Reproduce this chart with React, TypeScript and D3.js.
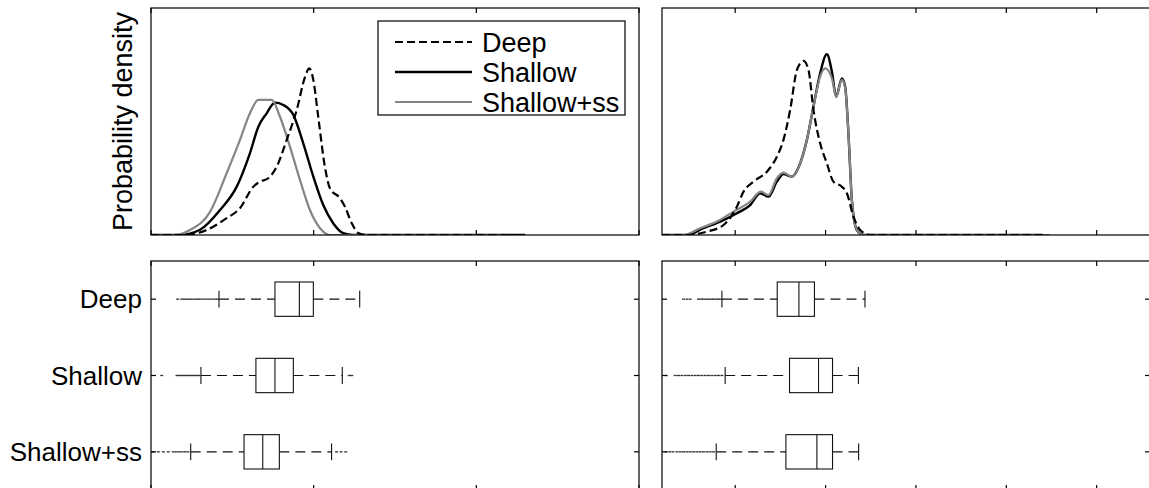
import React from "react";
import * as d3 from "d3";

// ---- data -------------------------------------------------------------
const groups = ["Deep", "Shallow", "Shallow+ss"];

// kernel density estimates, [value, density]
const leftDeep: [number, number][] = [
  [0, 0], [0.199, 0], [0.342, 0.022], [0.465, 0.074], [0.547, 0.118], [0.629, 0.213],
  [0.67, 0.235], [0.721, 0.25], [0.773, 0.301], [0.834, 0.419], [0.896, 0.551],
  [0.947, 0.697], [0.973, 0.734], [0.998, 0.683], [1.028, 0.521], [1.069, 0.301],
  [1.1, 0.206], [1.162, 0.162], [1.192, 0.125], [1.234, 0.052], [1.274, 0.009],
  [1.326, 0], [2.3, 0],
];
const leftShallow: [number, number][] = [
  [0, 0], [0.178, 0], [0.301, 0.023], [0.424, 0.11], [0.527, 0.213], [0.608, 0.36],
  [0.66, 0.477], [0.711, 0.536], [0.762, 0.583], [0.813, 0.573], [0.875, 0.529],
  [0.936, 0.404], [0.998, 0.257], [1.059, 0.132], [1.12, 0.052], [1.182, 0.008],
  [1.243, 0], [2.3, 0],
];
const leftShallowSs: [number, number][] = [
  [0, 0], [0.137, 0], [0.24, 0.022], [0.363, 0.102], [0.465, 0.272], [0.547, 0.419],
  [0.608, 0.536], [0.66, 0.595], [0.742, 0.595], [0.793, 0.521], [0.854, 0.389],
  [0.916, 0.242], [0.977, 0.11], [1.039, 0.03], [1.1, 0], [2.2, 0],
];
const rightDeep: [number, number][] = [
  [-0.81, 0], [-0.534, 0], [-0.313, 0.015], [-0.129, 0.044], [0.019, 0.125], [0.092, 0.191],
  [0.202, 0.235], [0.351, 0.279], [0.461, 0.345], [0.534, 0.419], [0.608, 0.551],
  [0.683, 0.727], [0.756, 0.767], [0.811, 0.727], [0.866, 0.551], [0.94, 0.404],
  [1.014, 0.316], [1.087, 0.235], [1.18, 0.213], [1.236, 0.184], [1.309, 0.081],
  [1.383, 0.022], [1.493, 0], [3.4, 0],
];
const rightShallow: [number, number][] = [
  [-0.81, 0], [-0.534, 0], [-0.351, 0.03], [-0.166, 0.059], [0.019, 0.096], [0.166, 0.132],
  [0.277, 0.184], [0.368, 0.169], [0.461, 0.235], [0.534, 0.269], [0.627, 0.257],
  [0.719, 0.316], [0.793, 0.419], [0.866, 0.566], [0.94, 0.712], [1.014, 0.796],
  [1.07, 0.72], [1.117, 0.609], [1.18, 0.69], [1.217, 0.653], [1.253, 0.448],
  [1.291, 0.154], [1.346, 0.022], [1.419, 0], [3.4, 0],
];
const rightShallowSs: [number, number][] = [
  [-0.81, 0], [-0.572, 0], [-0.387, 0.03], [-0.202, 0.059], [-0.019, 0.103], [0.166, 0.147],
  [0.284, 0.191], [0.368, 0.176], [0.461, 0.25], [0.534, 0.275], [0.627, 0.257],
  [0.719, 0.316], [0.793, 0.419], [0.866, 0.566], [0.94, 0.698], [0.996, 0.734],
  [1.07, 0.69], [1.117, 0.609], [1.18, 0.683], [1.217, 0.646], [1.253, 0.448],
  [1.291, 0.154], [1.346, 0.022], [1.419, 0], [3.485, 0],
];

// box statistics per group: [lower whisker, q1, median, q3, upper whisker]
const leftBoxes: number[][] = [
  [0.418, 0.762, 0.912, 0.998, 1.283],
  [0.307, 0.645, 0.762, 0.875, 1.176],
  [0.244, 0.572, 0.687, 0.789, 1.11],
];
const rightBoxes: number[][] = [
  [-0.147, 0.465, 0.705, 0.877, 1.436],
  [-0.111, 0.601, 0.922, 1.077, 1.363],
  [-0.21, 0.561, 0.904, 1.077, 1.366],
];

// outlying observations per group
const leftOutliers: number[][] = [
  [0.164, 0.189, 0.206, 0.221, 0.237, 0.252, 0.27, 0.286, 0.301, 0.32, 0.338, 0.356, 0.375, 0.393, 0.409],
  [0.066, 0.16, 0.172, 0.184, 0.197, 0.209, 0.221, 0.234, 0.246, 0.258, 0.27, 0.283, 0.295, 1.219, 1.234],
  [0.014, 0.045, 0.076, 0.106, 0.137, 0.154, 0.172, 0.19, 0.209, 0.227, 1.141, 1.168, 1.197],
];
const rightOutliers: number[][] = [
  [-0.572, -0.534, -0.498, -0.406, -0.376, -0.351, -0.321, -0.295, -0.265, -0.24, -0.21, -0.185, -0.158],
  [-0.763, -0.664, -0.627, -0.59, -0.553, -0.516, -0.479, -0.442, -0.406, -0.369, -0.332, -0.295, -0.258, -0.221, -0.185, -0.147],
  [-0.763, -0.726, -0.689, -0.645, -0.608, -0.572, -0.534, -0.498, -0.461, -0.424, -0.387, -0.351, -0.313, -0.277, -0.24],
];

const leftTicks = [0, 1, 2, 3];
const rightTicks = [0, 1, 2, 3, 4];

// ---- layout -----------------------------------------------------------
const W = 1149;
const H = 488;
const FONT = "Liberation Sans, Arial, Helvetica, sans-serif";
const GRAY = "#858585";

const xLeft = d3.scaleLinear().domain([0, 3]).range([151, 639]);
const xRight = d3.scaleLinear().domain([-0.81, 4.59]).range([662, 1150]);
const yDens = d3.scaleLinear().domain([0, 1]).range([235, 8]);
const yBox = d3.scaleLinear().domain([0.5, 3.5]).range([261, 490]);

const series = [
  { name: "Deep", color: "#000", dash: "8,4", width: 2.2 },
  { name: "Shallow", color: "#000", dash: "", width: 2.4 },
  { name: "Shallow+ss", color: GRAY, dash: "", width: 2.2 },
];

function Frame({ x, y, ticks, yTicks }: {
  x: d3.ScaleLinear<number, number>;
  y: d3.ScaleLinear<number, number>;
  ticks: number[];
  yTicks?: number[];
}) {
  const [x0, x1] = x.range();
  const [ya, yb] = y.range();
  const top = Math.min(ya, yb);
  const bot = Math.max(ya, yb);
  const tl = 5;
  return (
    <g stroke="#000" strokeWidth={1.2} fill="none">
      <rect x={x0} y={top} width={x1 - x0} height={bot - top} />
      {ticks.map((t) => (
        <g key={t}>
          <line x1={x(t)} x2={x(t)} y1={top} y2={top + tl} />
          <line x1={x(t)} x2={x(t)} y1={bot} y2={bot - tl} />
        </g>
      ))}
      {(yTicks || []).map((t) => (
        <g key={"y" + t}>
          <line x1={x0} x2={x0 + tl} y1={y(t)} y2={y(t)} />
          <line x1={x1} x2={x1 - tl} y1={y(t)} y2={y(t)} />
        </g>
      ))}
    </g>
  );
}

function Densities({ x, data, clip }: {
  x: d3.ScaleLinear<number, number>;
  data: [number, number][][];
  clip: string;
}) {
  const line = d3
    .line<[number, number]>()
    .x((d) => x(d[0]))
    .y((d) => yDens(d[1]))
    .curve(d3.curveMonotoneX);
  // solid black first, gray over it, dashed on top
  const order = [1, 2, 0];
  return (
    <g clipPath={`url(#${clip})`}>
      {order.map((i) => (
        <path
          key={i}
          d={line(data[i]) || ""}
          fill="none"
          stroke={series[i].color}
          strokeWidth={series[i].width}
          strokeDasharray={series[i].dash || undefined}
          strokeLinejoin="round"
        />
      ))}
    </g>
  );
}

function Boxes({ x, boxes, outliers }: {
  x: d3.ScaleLinear<number, number>;
  boxes: number[][];
  outliers: number[][];
}) {
  const half = 0.225;
  const cap = 0.11;
  return (
    <g stroke="#111" strokeWidth={1.1} fill="none">
      {boxes.map((b, i) => {
        const g = i + 1;
        const yc = yBox(g);
        const [lw, q1, med, q3, uw] = b;
        return (
          <g key={i}>
            <line x1={x(lw)} x2={x(q1)} y1={yc} y2={yc} strokeDasharray="10,6" />
            <line x1={x(q3)} x2={x(uw)} y1={yc} y2={yc} strokeDasharray="10,6" />
            <line x1={x(lw)} x2={x(lw)} y1={yBox(g - cap)} y2={yBox(g + cap)} />
            <line x1={x(uw)} x2={x(uw)} y1={yBox(g - cap)} y2={yBox(g + cap)} />
            <rect
              x={x(q1)}
              y={yBox(g - half)}
              width={x(q3) - x(q1)}
              height={yBox(g + half) - yBox(g - half)}
            />
            <line x1={x(med)} x2={x(med)} y1={yBox(g - half)} y2={yBox(g + half)} />
            {outliers[i].map((o, k) => (
              <line
                key={k}
                x1={x(o) - 1.5}
                x2={x(o) + 1.5}
                y1={yc}
                y2={yc}
                stroke="#333"
                strokeWidth={1.3}
              />
            ))}
          </g>
        );
      })}
    </g>
  );
}

export default function App() {
  React.useEffect(() => {
    document.body.style.margin = "0";
    document.body.style.overflow = "hidden";
  }, []);
  const leftClip = "clip-left-top";
  const rightClip = "clip-right-top";
  const legendX = 378;
  const legendY = 21;
  return (
    <svg
      width={W}
      height={H}
      style={{ position: "absolute", left: 0, top: 0, background: "#fff" }}
      fontFamily={FONT}
    >
      <defs>
        <clipPath id={leftClip}>
          <rect x={151} y={8} width={488} height={227} />
        </clipPath>
        <clipPath id={rightClip}>
          <rect x={662} y={8} width={488} height={227} />
        </clipPath>
      </defs>
      <rect x={0} y={0} width={W} height={H} fill="#fff" />

      {/* density panels */}
      <Densities x={xLeft} data={[leftDeep, leftShallow, leftShallowSs]} clip={leftClip} />
      <Densities x={xRight} data={[rightDeep, rightShallow, rightShallowSs]} clip={rightClip} />
      <Frame x={xLeft} y={yDens} ticks={leftTicks} />
      <Frame x={xRight} y={yDens} ticks={rightTicks} />

      <text
        transform={`translate(132, ${(8 + 235) / 2}) rotate(-90)`}
        textAnchor="middle"
        fontSize={27}
        fill="#000"
      >
        Probability density
      </text>

      {/* legend */}
      <g>
        <rect x={legendX} y={legendY} width={247} height={94} fill="#fff" stroke="#000" strokeWidth={1.2} />
        {series.map((s, i) => {
          const yy = legendY + 21 + i * 30;
          return (
            <g key={s.name}>
              <line
                x1={legendX + 17}
                x2={legendX + 94}
                y1={yy}
                y2={yy}
                stroke={s.color}
                strokeWidth={s.width}
                strokeDasharray={s.dash || undefined}
              />
              <text x={legendX + 104} y={yy + 9.5} fontSize={27} fill="#000">
                {s.name}
              </text>
            </g>
          );
        })}
      </g>

      {/* box plot panels */}
      <Boxes x={xLeft} boxes={leftBoxes} outliers={leftOutliers} />
      <Boxes x={xRight} boxes={rightBoxes} outliers={rightOutliers} />
      <Frame x={xLeft} y={yBox} ticks={leftTicks} yTicks={[1, 2, 3]} />
      <Frame x={xRight} y={yBox} ticks={rightTicks} yTicks={[1, 2, 3]} />

      {groups.map((g, i) => (
        <text
          key={g}
          x={142}
          y={yBox(i + 1)}
          dy="0.35em"
          textAnchor="end"
          fontSize={26}
          fill="#000"
        >
          {g}
        </text>
      ))}
    </svg>
  );
}
